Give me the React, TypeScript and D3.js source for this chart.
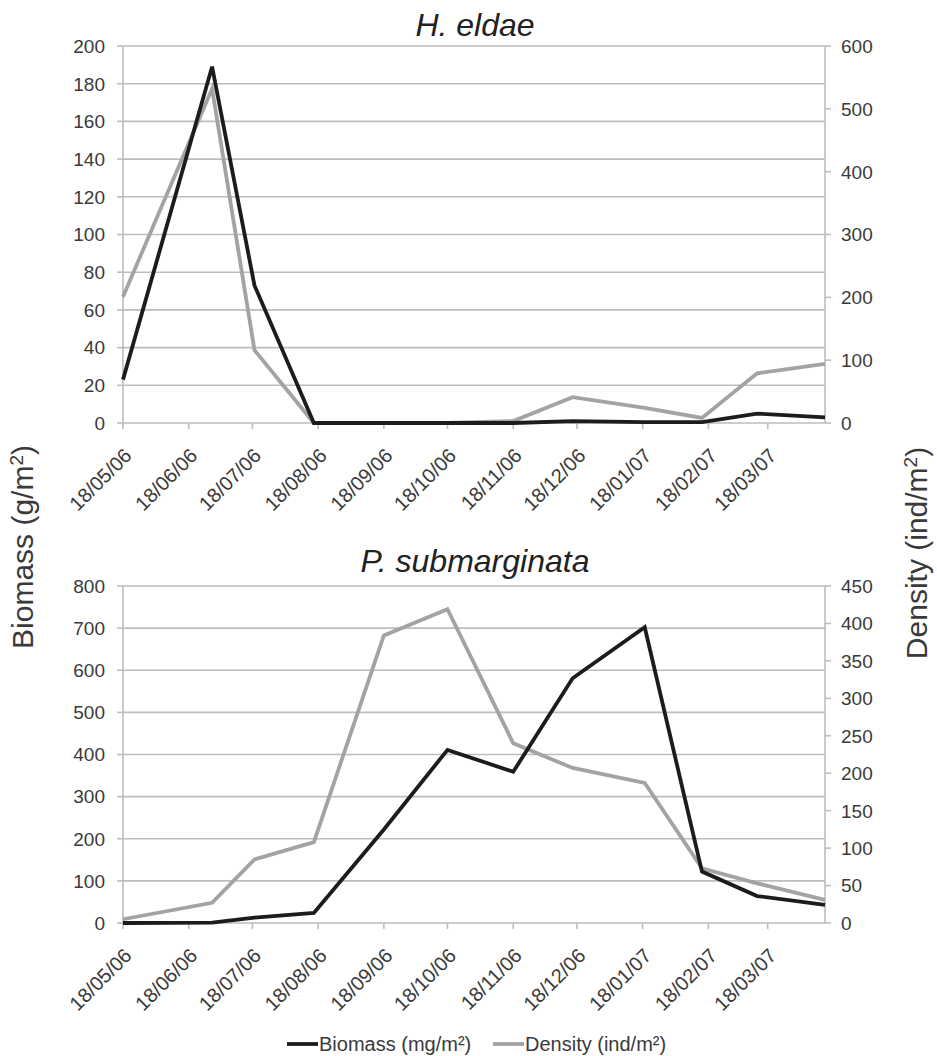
import * as d3 from "d3";

// sampling dates (shared by both species)
const sampleDates = [
  "2006-05-18", "2006-06-29", "2006-07-19", "2006-08-16", "2006-09-18", "2006-10-18",
  "2006-11-18", "2006-12-16", "2007-01-19", "2007-02-15", "2007-03-13", "2007-04-14",
];

const tickDates = [
  "2006-05-18", "2006-06-18", "2006-07-18", "2006-08-18", "2006-09-18", "2006-10-18",
  "2006-11-18", "2006-12-18", "2007-01-18", "2007-02-18", "2007-03-18",
];

// H. eldae
const eldaeBiomass = [23, 189, 73, 0, 0, 0, 0, 1, 0.5, 0.5, 5, 3];
const eldaeDensity = [201, 532, 116, 0, 0, 0, 3, 41, 24, 8, 79, 94];
const eldaeLeftTicks = [0, 20, 40, 60, 80, 100, 120, 140, 160, 180, 200];
const eldaeRightTicks = [0, 100, 200, 300, 400, 500, 600];

// P. submarginata
const submBiomass = [0, 1, 13, 24, 222, 411, 359, 581, 702, 122, 64, 43];
const submDensity = [5, 27, 85, 108, 384, 419, 240, 207, 187, 73, 53, 31];
const submLeftTicks = [0, 100, 200, 300, 400, 500, 600, 700, 800];
const submRightTicks = [0, 50, 100, 150, 200, 250, 300, 350, 400, 450];

const FONT = "'Liberation Sans', Arial, sans-serif";
const TEXT = "#3a3a3a";
const GRID = "#bdbdbd";
const BLACK = "#1c1c1c";
const GREY = "#a3a3a3";

const parse = d3.timeParse("%Y-%m-%d");
const fmt = d3.timeFormat("%d/%m/%y");
const dates = sampleDates.map((d) => parse(d) as Date);
const ticks = tickDates.map((d) => parse(d) as Date);

const x = d3
  .scaleTime()
  .domain([dates[0], dates[dates.length - 1]])
  .range([123, 825]);

type PanelProps = {
  title: string;
  top: number;
  bottom: number;
  titleY: number;
  biomass: number[];
  density: number[];
  leftTicks: number[];
  rightTicks: number[];
};

function Panel({ title, top, bottom, titleY, biomass, density, leftTicks, rightTicks }: PanelProps) {
  const yL = d3
    .scaleLinear()
    .domain([0, leftTicks[leftTicks.length - 1]])
    .range([bottom, top]);
  const yR = d3
    .scaleLinear()
    .domain([0, rightTicks[rightTicks.length - 1]])
    .range([bottom, top]);

  const bLine = d3
    .line<number>()
    .x((_, i) => x(dates[i]))
    .y((d) => yL(d));
  const dLine = d3
    .line<number>()
    .x((_, i) => x(dates[i]))
    .y((d) => yR(d));

  const [x0, x1] = x.range();

  return (
    <g>
      <text
        x={475}
        y={titleY}
        textAnchor="middle"
        fontStyle="italic"
        fontSize={32}
        fill="#222"
      >
        {title}
      </text>
      {leftTicks.map((t) => (
        <g key={"l" + t}>
          <line x1={x0} x2={x1} y1={yL(t)} y2={yL(t)} stroke={GRID} strokeWidth={1.6} />
          <line x1={x0 - 6} x2={x0} y1={yL(t)} y2={yL(t)} stroke={GRID} strokeWidth={1.6} />
          <text x={105} y={yL(t)} dy="0.36em" textAnchor="end" fontSize={19} fill={TEXT}>
            {t}
          </text>
        </g>
      ))}
      {rightTicks.map((t) => (
        <g key={"r" + t}>
          <line x1={x1} x2={x1 + 6} y1={yR(t)} y2={yR(t)} stroke={GRID} strokeWidth={1.6} />
          <text x={841} y={yR(t)} dy="0.36em" textAnchor="start" fontSize={19} fill={TEXT}>
            {t}
          </text>
        </g>
      ))}
      <line x1={x0} x2={x0} y1={top} y2={bottom} stroke={GRID} strokeWidth={1.6} />
      <line x1={x1} x2={x1} y1={top} y2={bottom} stroke={GRID} strokeWidth={1.6} />
      {ticks.map((d) => (
        <g key={d.getTime()}>
          <line x1={x(d)} x2={x(d)} y1={bottom} y2={bottom + 6} stroke={GRID} strokeWidth={1.6} />
          <text
            transform={`translate(${x(d)},${bottom + 24}) rotate(-45)`}
            textAnchor="end"
            dy="0.7em"
            fontSize={20}
            fill={TEXT}
          >
            {fmt(d)}
          </text>
        </g>
      ))}
      <path d={dLine(density) ?? ""} fill="none" stroke={GREY} strokeWidth={3.8} strokeLinejoin="miter" />
      <path d={bLine(biomass) ?? ""} fill="none" stroke={BLACK} strokeWidth={3.8} strokeLinejoin="miter" />
    </g>
  );
}

export default function App() {
  return (
    <svg
      width={937}
      height={1056}
      style={{ position: "absolute", left: 0, top: 0, background: "#fff" }}
      fontFamily={FONT}
    >
      <Panel
        title="H. eldae"
        top={46}
        bottom={423}
        titleY={36}
        biomass={eldaeBiomass}
        density={eldaeDensity}
        leftTicks={eldaeLeftTicks}
        rightTicks={eldaeRightTicks}
      />
      <Panel
        title="P. submarginata"
        top={586}
        bottom={923}
        titleY={572}
        biomass={submBiomass}
        density={submDensity}
        leftTicks={submLeftTicks}
        rightTicks={submRightTicks}
      />
      <text transform="translate(33,547) rotate(-90)" textAnchor="middle" fontSize={30} fill={TEXT}>
        Biomass (g/m<tspan baselineShift="super" fontSize={19}>2</tspan>)
      </text>
      <text transform="translate(927,553) rotate(-90)" textAnchor="middle" fontSize={30} fill={TEXT}>
        Density (ind/m<tspan baselineShift="super" fontSize={19}>2</tspan>)
      </text>
      <g fontSize={20} fill={TEXT}>
        <line x1={287} x2={318} y1={1044} y2={1044} stroke={BLACK} strokeWidth={3.8} />
        <text x={319} y={1044} dy="0.36em">Biomass (mg/m²)</text>
        <line x1={493} x2={524} y1={1044} y2={1044} stroke={GREY} strokeWidth={3.8} />
        <text x={525} y={1044} dy="0.36em">Density (ind/m²)</text>
      </g>
    </svg>
  );
}
